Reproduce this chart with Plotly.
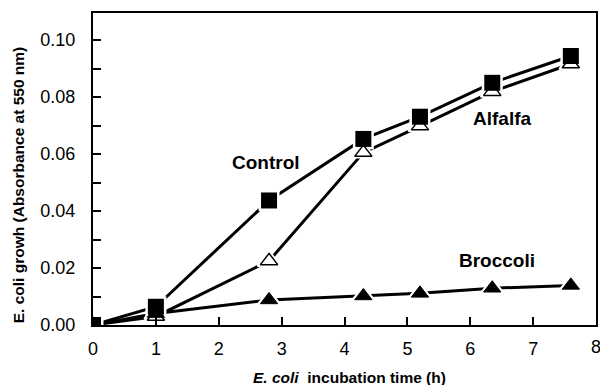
import plotly.graph_objects as go

time_control = [0, 1, 2.8, 4.3, 5.2, 6.35, 7.6]
control = [0.0, 0.0064, 0.0437, 0.0653, 0.0731, 0.0850, 0.0944]

time_alfalfa = [0, 1, 2.8, 4.3, 5.2, 6.35, 7.6]
alfalfa = [0.0, 0.0030, 0.0225, 0.0605, 0.0698, 0.0819, 0.0916]

time_broccoli = [0, 1, 2.8, 4.3, 5.2, 6.35, 7.6]
broccoli = [0.0, 0.0040, 0.0088, 0.0102, 0.0111, 0.0129, 0.0139]

x_ticks = [0, 1, 2, 3, 4, 5, 6, 7, 8]
y_ticks = [0.0, 0.02, 0.04, 0.06, 0.08, 0.10]
y_tick_labels = ["0.00", "0.02", "0.04", "0.06", "0.08", "0.10"]

labels = ["Control", "Alfalfa", "Broccoli"]
label_x = [2.75, 6.52, 6.43]
label_y = [0.0572, 0.0723, 0.0228]

FONT = "Liberation Sans, Arial, sans-serif"

fig = go.Figure()

# lines
for xs, ys in [(time_alfalfa, alfalfa), (time_control, control), (time_broccoli, broccoli)]:
    fig.add_trace(go.Scatter(x=xs, y=ys, mode="lines",
                             line=dict(color="black", width=3), hoverinfo="skip"))

# white masks to create small gaps between lines and markers
fig.add_trace(go.Scatter(x=time_alfalfa, y=alfalfa, mode="markers",
                         marker=dict(symbol="triangle-up", size=20, color="white",
                                     line=dict(color="white", width=2)), hoverinfo="skip"))
fig.add_trace(go.Scatter(x=time_broccoli, y=broccoli, mode="markers",
                         marker=dict(symbol="triangle-up", size=20, color="white",
                                     line=dict(color="white", width=2)), hoverinfo="skip"))
fig.add_trace(go.Scatter(x=time_control, y=control, mode="markers",
                         marker=dict(symbol="square", size=21, color="white",
                                     line=dict(color="white", width=0)), hoverinfo="skip"))

# markers
fig.add_trace(go.Scatter(x=time_alfalfa, y=alfalfa, mode="markers",
                         marker=dict(symbol="triangle-up", size=15, color="white",
                                     line=dict(color="black", width=1.5))))
fig.add_trace(go.Scatter(x=time_broccoli, y=broccoli, mode="markers",
                         marker=dict(symbol="triangle-up", size=15, color="black",
                                     line=dict(color="black", width=1))))
fig.add_trace(go.Scatter(x=time_control, y=control, mode="markers",
                         marker=dict(symbol="square", size=16, color="black",
                                     line=dict(color="black", width=0))))

for t, lx, ly in zip(labels, label_x, label_y):
    fig.add_annotation(x=lx, y=ly, xref="x", yref="y", text="<b>%s</b>" % t,
                       showarrow=False, font=dict(family=FONT, size=19, color="black"))

# last x tick label (partly cut off at the right edge, as in the original)
fig.add_annotation(x=x_ticks[-1], y=-0.033, xref="x", yref="paper", text=str(x_ticks[-1]),
                   showarrow=False, xanchor="center", yanchor="top",
                   font=dict(family=FONT, size=18, color="black"))

fig.add_annotation(x=0.509, y=-0.167, xref="paper", yref="paper",
                   text="<b><i>E. coli</i>  incubation time (h)</b>", showarrow=False,
                   xanchor="center", yanchor="middle",
                   font=dict(family=FONT, size=15.5, color="black"))
fig.add_annotation(x=-0.1465, y=0.449, xref="paper", yref="paper",
                   text="<b>E. coli growh (Absorbance at 550 nm)</b>", showarrow=False,
                   textangle=-90, xanchor="center", yanchor="middle",
                   font=dict(family=FONT, size=15.5, color="black"))

fig.update_layout(
    width=600, height=385,
    margin=dict(l=93, r=2, t=13, b=60),
    paper_bgcolor="white", plot_bgcolor="white",
    showlegend=False,
    font=dict(family=FONT, size=18, color="black"),
    xaxis=dict(range=[0, 8], tickvals=x_ticks[:-1], ticktext=[str(v) for v in x_ticks[:-1]],
               ticks="inside", ticklen=8, tickwidth=2, tickcolor="black",
               showline=True, linewidth=2, linecolor="black", mirror=True,
               showgrid=False, zeroline=False, ticklabelstandoff=6,
               tickfont=dict(family=FONT, size=18, color="black")),
    yaxis=dict(range=[0, 0.1095], tickvals=y_ticks, ticktext=y_tick_labels,
               ticks="inside", ticklen=8, tickwidth=2, tickcolor="black",
               minor=dict(ticks="inside", ticklen=8, tickwidth=2, tickcolor="black", dtick=0.01, tick0=0),
               showline=True, linewidth=2, linecolor="black", mirror=True,
               showgrid=False, zeroline=False, ticklabelstandoff=12,
               tickfont=dict(family=FONT, size=18, color="black")),
)

fig.write_html("out.html")
